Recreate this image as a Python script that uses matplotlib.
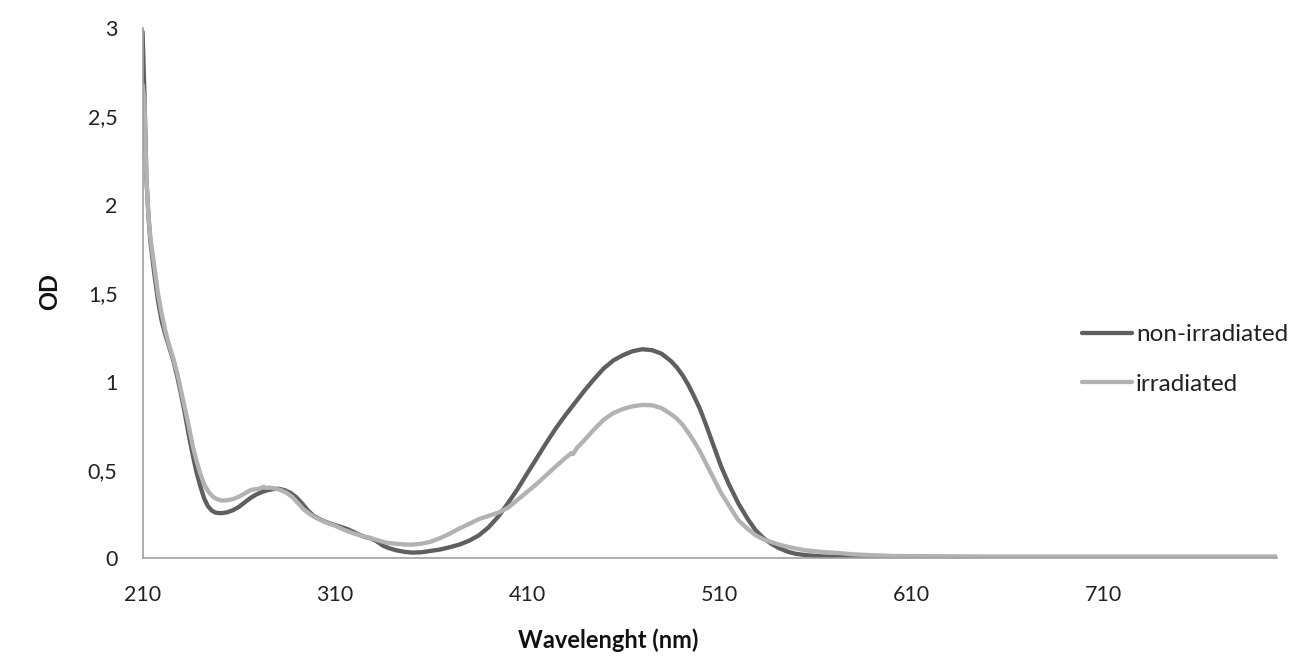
import matplotlib
matplotlib.use("Agg")
import matplotlib.pyplot as plt

plt.rcParams['font.family'] = ['Lato', 'DejaVu Sans']

# Non-irradiated spectrum (wavelength nm, OD)
wl_non = [210, 211, 212, 213, 214, 216, 218, 220, 222, 224, 226, 228, 230, 232, 234, 236, 238,
          240, 242, 244, 246, 248, 251, 254, 257, 260, 263, 266, 269, 272, 275, 278, 281, 284,
          287, 290, 293, 296, 299, 302, 305, 308, 311, 314, 317, 320, 323, 326, 329, 332, 335,
          338, 342, 346, 350, 355, 360, 365, 370, 375, 380, 385, 390, 395, 400, 405, 410, 415,
          420, 425, 430, 435, 440, 445, 450, 455, 460, 465, 470, 475, 480, 485, 488, 491, 494,
          497, 500, 503, 507, 511, 515, 520, 525, 529, 533, 537, 541, 546, 550, 555, 563, 570,
          580, 600, 650, 700, 750, 800]
od_non = [2.98, 2.62, 2.15, 1.95, 1.80, 1.62, 1.46, 1.34, 1.26, 1.19, 1.12, 1.03, 0.93, 0.82, 0.70,
          0.59, 0.49, 0.41, 0.34, 0.295, 0.27, 0.258, 0.255, 0.26, 0.272, 0.29, 0.315, 0.34, 0.36,
          0.375, 0.385, 0.392, 0.393, 0.385, 0.37, 0.345, 0.31, 0.27, 0.24, 0.222, 0.207, 0.195,
          0.185, 0.175, 0.163, 0.148, 0.132, 0.12, 0.112, 0.095, 0.072, 0.058, 0.045, 0.037, 0.032,
          0.034, 0.042, 0.05, 0.063, 0.078, 0.10, 0.13, 0.175, 0.235, 0.31, 0.39, 0.478, 0.565,
          0.652, 0.735, 0.81, 0.88, 0.95, 1.015, 1.075, 1.12, 1.15, 1.172, 1.183, 1.178, 1.158,
          1.115, 1.08, 1.035, 0.98, 0.915, 0.845, 0.76, 0.64, 0.52, 0.42, 0.31, 0.22, 0.158, 0.115,
          0.083, 0.058, 0.036, 0.025, 0.018, 0.011, 0.009, 0.008, 0.006, 0.005, 0.005, 0.005, 0.005]

# Irradiated spectrum (wavelength nm, OD)
wl_irr = [210, 211, 212, 213, 214, 216, 218, 220, 222, 224, 226, 228, 230, 232, 234, 236, 238,
          240, 242, 244, 246, 248, 251, 254, 257, 260, 263, 266, 268, 270, 272, 273, 274, 276,
          279, 282, 285, 288, 291, 294, 297, 300, 303, 306, 310, 315, 320, 325, 330, 333, 337,
          342, 346, 350, 355, 360, 365, 370, 375, 380, 385, 390, 395, 400, 405, 410, 415, 420,
          425, 430, 432, 433, 434, 436, 440, 445, 450, 455, 460, 465, 470, 475, 480, 485, 488,
          491, 494, 497, 500, 503, 507, 511, 515, 520, 525, 529, 533, 537, 541, 546, 550, 555,
          563, 572, 580, 600, 650, 700, 750, 800]
od_irr = [2.68, 2.58, 2.15, 1.95, 1.82, 1.66, 1.50, 1.38, 1.28, 1.20, 1.13, 1.05, 0.95, 0.85, 0.75,
          0.64, 0.555, 0.48, 0.42, 0.38, 0.355, 0.338, 0.327, 0.328, 0.335, 0.348, 0.365, 0.385,
          0.39, 0.392, 0.40, 0.405, 0.398, 0.40, 0.395, 0.385, 0.37, 0.346, 0.31, 0.275, 0.25,
          0.23, 0.215, 0.20, 0.185, 0.16, 0.14, 0.125, 0.11, 0.10, 0.088, 0.082, 0.078, 0.077,
          0.082, 0.094, 0.115, 0.14, 0.17, 0.195, 0.222, 0.24, 0.258, 0.285, 0.33, 0.375, 0.42,
          0.47, 0.52, 0.568, 0.585, 0.595, 0.59, 0.625, 0.67, 0.73, 0.785, 0.822, 0.845, 0.86,
          0.868, 0.866, 0.85, 0.815, 0.79, 0.755, 0.71, 0.66, 0.605, 0.54, 0.455, 0.37, 0.30,
          0.215, 0.165, 0.13, 0.108, 0.092, 0.078, 0.064, 0.055, 0.045, 0.036, 0.03, 0.022, 0.013,
          0.01, 0.01, 0.01, 0.01]

series_names = ["non-irradiated", "irradiated"]
x_ticks = [210, 310, 410, 510, 610, 710]
y_ticks = [0, 0.5, 1, 1.5, 2, 2.5, 3]
y_tick_labels = ["0", "0,5", "1", "1,5", "2", "2,5", "3"]

fig = plt.figure(figsize=(12.96, 6.71), dpi=100)
ax = fig.add_axes([0.110, 0.168, 0.875, 0.790])

ax.plot(wl_non, od_non, color="#5f5f5f", lw=3.1, label=series_names[0], solid_capstyle="round")
ax.plot(wl_irr, od_irr, color="#b2b2b2", lw=3.1, label=series_names[1], solid_capstyle="round")

ax.set_xlim(210, 800)
ax.set_ylim(0, 3)
ax.set_xticks(x_ticks)
ax.set_xticklabels([str(t) for t in x_ticks])
ax.set_yticks(y_ticks)
ax.set_yticklabels(y_tick_labels)
ax.tick_params(axis="x", length=0, pad=19.5, labelsize=15.5, colors="#222222")
ax.tick_params(axis="y", length=0, pad=18, labelsize=15.5, colors="#222222")

for s in ["top", "right"]:
    ax.spines[s].set_visible(False)
for s in ["left", "bottom"]:
    ax.spines[s].set_color("#a0a0a0")
    ax.spines[s].set_linewidth(1.2)

fig.text(0.469, 0.046, "Wavelenght (nm)", ha="center", va="center",
         fontsize=17, fontweight="bold", color="#111111")
fig.text(0.038, 0.565, "OD", ha="center", va="center", rotation=90,
         fontsize=17, fontweight="bold", color="#111111")

leg = fig.legend(loc="upper left", bbox_to_anchor=(0.835, 0.517), frameon=False,
                 fontsize=17.5, handlelength=2.05, handletextpad=0.17, labelspacing=1.18,
                 borderaxespad=0, borderpad=0)
for t in leg.get_texts():
    t.set_color("#222222")

fig.savefig("out.png", dpi=100)
